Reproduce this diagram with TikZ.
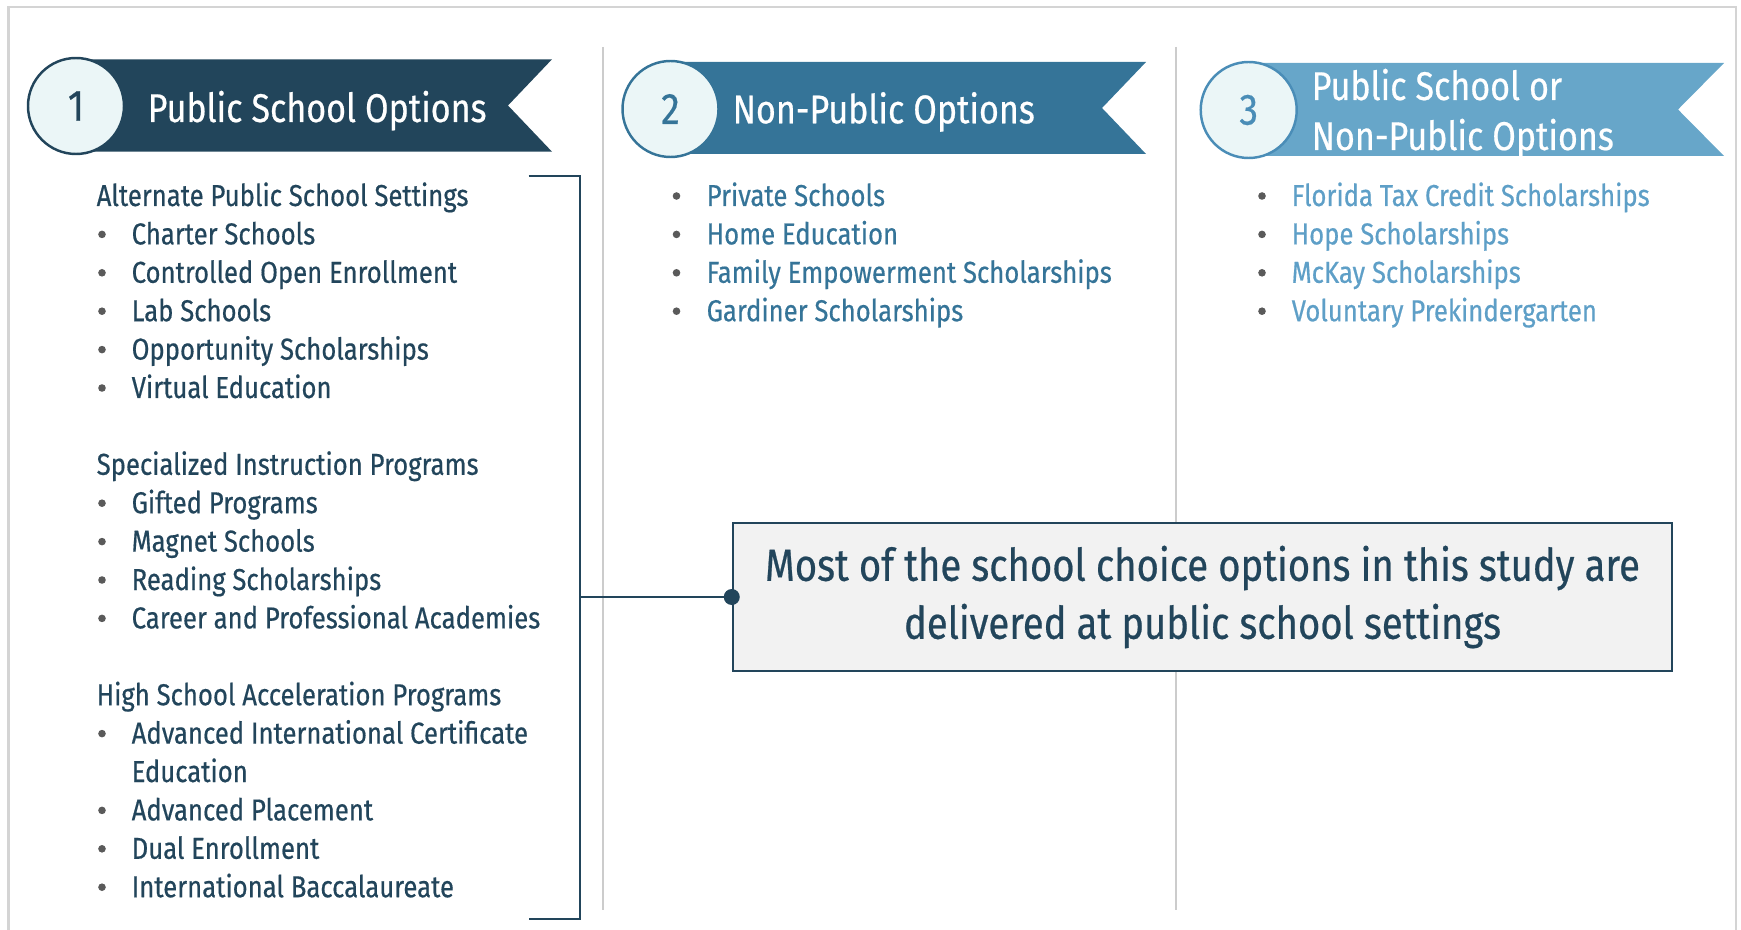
\documentclass[tikz,border=0pt]{standalone}
\usepackage{fontspec}
\setmainfont{Fira Sans}[FakeStretch=0.85, FakeBold=0.5]
\usepackage{xcolor}
\usepackage{tikz}

\definecolor{navy}{HTML}{22455B}
\definecolor{steel}{HTML}{357498}
\definecolor{sky}{HTML}{67A6C9}
\definecolor{skyline}{HTML}{4A8DB7}
\definecolor{skytext}{HTML}{5E9FC7}
\definecolor{circfill}{HTML}{EBF6F7}
\definecolor{framegray}{HTML}{D4D4D4}
\definecolor{divgray}{HTML}{CCCCCC}
\definecolor{dotgray}{HTML}{5A5A5A}
\definecolor{boxfill}{HTML}{F2F2F2}

\tikzset{
	listitem/.style={anchor=base west, inner sep=0pt, font=\fontsize{8.6}{10}\selectfont},
	ribbontext/.style={anchor=base west, inner sep=0pt, text=white, font=\fontsize{11.4}{14}\selectfont},
	numcircle/.style={circle, minimum size=0.96cm, inner sep=0pt, fill=circfill, line width=0.7pt,
		font=\fontsize{12.5}{14}\selectfont},
	bulletdot/.style={fill=dotgray},
	divider/.style={divgray, line width=0.43pt},
}

\begin{document}
\begin{tikzpicture}
		\useasboundingbox (0,0) rectangle (17.41,-9.30);
		\draw [framegray, line width=0.57pt] (0.085,-9.30) -- (0.085,-0.075) -- (17.36,-0.075) -- (17.36,-9.30);

		\draw [divider] (6.03,-0.47) -- (6.03,-9.10);
		\draw [divider] (11.76,-0.47) -- (11.76,-9.10);

		% ribbons
		\fill [navy] (0.76,-0.593) -- (5.52,-0.593) -- (5.08,-1.055) -- (5.52,-1.517) -- (0.76,-1.517) -- cycle;
		\node [numcircle, draw=navy, text=navy] (c1) at (0.76,-1.06) {1};
		\node [ribbontext] (r1) at (1.47,-1.22) {Public School Options};

		\fill [steel] (6.705,-0.62) -- (11.46,-0.62) -- (11.02,-1.08) -- (11.46,-1.54) -- (6.705,-1.54) -- cycle;
		\node [numcircle, draw=steel, text=steel] (c2) at (6.705,-1.09) {2};
		\node [ribbontext] (r2) at (7.32,-1.233) {Non-Public Options};

		\fill [sky] (12.487,-0.63) -- (17.24,-0.63) -- (16.78,-1.095) -- (17.24,-1.56) -- (12.487,-1.56) -- cycle;
		\node [numcircle, draw=skyline, text=skyline] (c3) at (12.487,-1.10) {3};
		\node [ribbontext] (r3a) at (13.11,-1.00) {Public School or};
		\node [ribbontext] (r3b) at (13.11,-1.50) {Non-Public Options};

		% column 1
		\node [listitem, text=navy] (alt) at (0.96,-2.060) {Alternate Public School Settings};
		\fill [bulletdot] (1.02,-2.344) circle[radius=0.038];
		\node [listitem, text=navy] (charter) at (1.31,-2.444) {Charter Schools};
		\fill [bulletdot] (1.02,-2.728) circle[radius=0.038];
		\node [listitem, text=navy] (coe) at (1.31,-2.828) {Controlled Open Enrollment};
		\fill [bulletdot] (1.02,-3.112) circle[radius=0.038];
		\node [listitem, text=navy] (lab) at (1.31,-3.212) {Lab Schools};
		\fill [bulletdot] (1.02,-3.496) circle[radius=0.038];
		\node [listitem, text=navy] (opp) at (1.31,-3.596) {Opportunity Scholarships};
		\fill [bulletdot] (1.02,-3.880) circle[radius=0.038];
		\node [listitem, text=navy] (virt) at (1.31,-3.980) {Virtual Education};

		\node [listitem, text=navy] (spec) at (0.96,-4.748) {Specialized Instruction Programs};
		\fill [bulletdot] (1.02,-5.032) circle[radius=0.038];
		\node [listitem, text=navy] (gifted) at (1.31,-5.132) {Gifted Programs};
		\fill [bulletdot] (1.02,-5.416) circle[radius=0.038];
		\node [listitem, text=navy] (magnet) at (1.31,-5.516) {Magnet Schools};
		\fill [bulletdot] (1.02,-5.800) circle[radius=0.038];
		\node [listitem, text=navy] (reading) at (1.31,-5.900) {Reading Scholarships};
		\fill [bulletdot] (1.02,-6.184) circle[radius=0.038];
		\node [listitem, text=navy] (career) at (1.31,-6.284) {Career and Professional Academies};

		\node [listitem, text=navy] (accel) at (0.96,-7.052) {High School Acceleration Programs};
		\fill [bulletdot] (1.02,-7.336) circle[radius=0.038];
		\node [listitem, text=navy] (aice) at (1.31,-7.436) {Advanced International Certificate};
		\node [listitem, text=navy] (aice2) at (1.31,-7.820) {Education};
		\fill [bulletdot] (1.02,-8.104) circle[radius=0.038];
		\node [listitem, text=navy] (ap) at (1.31,-8.204) {Advanced Placement};
		\fill [bulletdot] (1.02,-8.488) circle[radius=0.038];
		\node [listitem, text=navy] (dual) at (1.31,-8.588) {Dual Enrollment};
		\fill [bulletdot] (1.02,-8.872) circle[radius=0.038];
		\node [listitem, text=navy] (ib) at (1.31,-8.972) {International Baccalaureate};

		% column 2
		\fill [bulletdot] (6.765,-1.960) circle[radius=0.038];
		\node [listitem, text=steel] (priv) at (7.06,-2.060) {Private Schools};
		\fill [bulletdot] (6.765,-2.344) circle[radius=0.038];
		\node [listitem, text=steel] (home) at (7.06,-2.444) {Home Education};
		\fill [bulletdot] (6.765,-2.728) circle[radius=0.038];
		\node [listitem, text=steel] (fes) at (7.06,-2.828) {Family Empowerment Scholarships};
		\fill [bulletdot] (6.765,-3.112) circle[radius=0.038];
		\node [listitem, text=steel] (gard) at (7.06,-3.212) {Gardiner Scholarships};

		% column 3
		\fill [bulletdot] (12.62,-1.960) circle[radius=0.038];
		\node [listitem, text=skytext] (ftc) at (12.91,-2.060) {Florida Tax Credit Scholarships};
		\fill [bulletdot] (12.62,-2.344) circle[radius=0.038];
		\node [listitem, text=skytext] (hope) at (12.91,-2.444) {Hope Scholarships};
		\fill [bulletdot] (12.62,-2.728) circle[radius=0.038];
		\node [listitem, text=skytext] (mckay) at (12.91,-2.828) {McKay Scholarships};
		\fill [bulletdot] (12.62,-3.112) circle[radius=0.038];
		\node [listitem, text=skytext] (vpk) at (12.91,-3.212) {Voluntary Prekindergarten};

		% bracket and callout
		\draw [navy, line width=0.57pt] (5.285,-1.757) -- (5.80,-1.757) -- (5.80,-9.19) -- (5.285,-9.19);
		\coordinate (brk) at (5.80,-5.97);

		\node [draw=navy, fill=boxfill, line width=0.71pt, minimum width=9.39cm, minimum height=1.48cm,
			align=center, text=navy, font=\fontsize{12.8}{16.5}\selectfont] (msg) at (12.025,-5.97)
			{Most of the school choice options in this study are\\delivered at public school settings};

		\draw [navy, line width=0.57pt] (brk) -- (msg.west);
		\fill [navy] (msg.west) circle[radius=0.08];
	\end{tikzpicture}
\end{document}
